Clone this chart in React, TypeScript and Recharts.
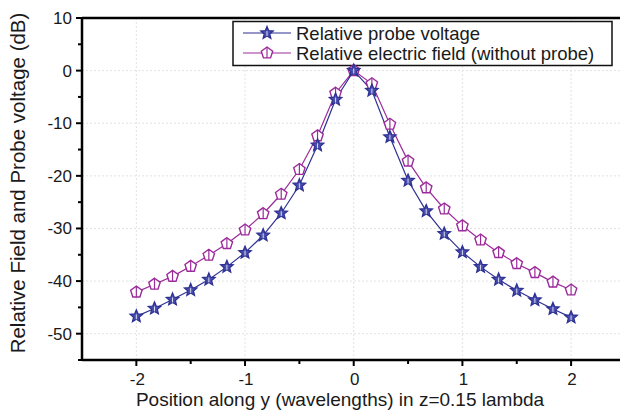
import React from 'react';
import { LineChart, Line, XAxis, YAxis, CartesianGrid, ReferenceLine } from 'recharts';

const positions = [-2, -1.833, -1.667, -1.5, -1.333, -1.167, -1, -0.833, -0.667, -0.5, -0.333, -0.167, 0,
  0.167, 0.333, 0.5, 0.667, 0.833, 1, 1.167, 1.333, 1.5, 1.667, 1.833, 2];
const probeVoltage = [-46.7, -45.2, -43.5, -41.7, -39.7, -37.3, -34.6, -31.3, -27.1, -21.8, -14.2, -5.5, 0,
  -3.8, -12.6, -20.9, -26.7, -31.0, -34.5, -37.3, -39.7, -41.8, -43.6, -45.3, -46.9];
const electricField = [-42.1, -40.6, -39.1, -37.2, -35.1, -32.9, -30.3, -27.2, -23.5, -18.8, -12.4, -4.3, 0,
  -2.5, -10.2, -17.2, -22.3, -26.3, -29.5, -32.2, -34.6, -36.7, -38.4, -40.2, -41.7];
const xTicks = [-2, -1.5, -1, -0.5, 0, 0.5, 1, 1.5, 2];
const yTicks = [-55, -50, -45, -40, -35, -30, -25, -20, -15, -10, -5, 0, 5, 10];
const xGrid = [-2, -1, 0, 1, 2];
const yGrid = [-50, -40, -30, -20, -10, 0];
const seriesNames = ['Relative probe voltage', 'Relative electric field (without probe)'];
const xLabel = 'Position along y (wavelengths) in z=0.15 lambda';
const yLabel = 'Relative Field and Probe voltage (dB)';

const data = positions.map((p, i) => ({ x: p, probe: probeVoltage[i], field: electricField[i] }));

const BLUE = '#2e3192';
const PURPLE = '#9b2a9b';
const FONT = 'Liberation Sans, Arial, Helvetica, sans-serif';
const TEXT = '#1a1a1a';

const starPath = (cx: number, cy: number, r: number) => {
  const pts: string[] = [];
  for (let i = 0; i < 10; i++) {
    const rr = i % 2 === 0 ? r : r * 0.45;
    const a = -Math.PI / 2 + (i * Math.PI) / 5;
    pts.push(`${cx + rr * Math.cos(a)},${cy + rr * Math.sin(a)}`);
  }
  return 'M' + pts.join('L') + 'Z';
};
const pentPath = (cx: number, cy: number, r: number) => {
  const pts: string[] = [];
  for (let i = 0; i < 5; i++) {
    const a = -Math.PI / 2 + (i * 2 * Math.PI) / 5;
    pts.push(`${cx + r * Math.cos(a)},${cy + r * Math.sin(a)}`);
  }
  return 'M' + pts.join('L') + 'Z';
};

const StarDot = (props: any) => {
  const { cx, cy } = props;
  if (cx == null || cy == null) return null;
  return (
    <g>
      <path d={starPath(cx, cy, 6.5)} fill="#4a4fb0" stroke={BLUE} strokeWidth={1.3} />
      <line x1={cx} y1={cy - 2} x2={cx} y2={cy + 3} stroke="#ffffff" strokeWidth={0.8} />
    </g>
  );
};
const PentDot = (props: any) => {
  const { cx, cy } = props;
  if (cx == null || cy == null) return null;
  return (
    <g>
      <path d={pentPath(cx, cy, 6)} fill="#ffffff" stroke={PURPLE} strokeWidth={1.4} />
      <line x1={cx} y1={cy - 5.5} x2={cx} y2={cy + 5} stroke={PURPLE} strokeWidth={1.2} />
    </g>
  );
};

const XTick = (props: any) => {
  const { x, y, payload } = props;
  const v = payload.value;
  const major = Math.abs(v - Math.round(v)) < 1e-6;
  return (
    <g>
      <line x1={x} y1={y} x2={x} y2={y + (major ? 6 : 4)} stroke="#000" strokeWidth={2} />
      {major && (
        <text x={x + 1} y={y + 24.5} textAnchor="middle" fontSize={17} fontFamily={FONT} fill={TEXT}>
          {String(v)}
        </text>
      )}
    </g>
  );
};
const YTick = (props: any) => {
  const { x, y, payload } = props;
  const v = payload.value;
  const major = v % 10 === 0;
  return (
    <g>
      <line x1={x} y1={y} x2={x - (major ? 6 : 4)} y2={y} stroke="#000" strokeWidth={2} />
      {major && (
        <text x={x - 10} y={y + 6} textAnchor="end" fontSize={17} fontFamily={FONT} fill={TEXT}>
          {String(v)}
        </text>
      )}
    </g>
  );
};

const Legend = () => (
  <g>
    <rect x={233} y={21.5} width={379} height={44} fill="#fff" stroke="#111" strokeWidth={1.5} />
    <line x1={243} y1={33} x2={291} y2={33} stroke={BLUE} strokeWidth={1.2} />
    <StarDot cx={267} cy={33} />
    <text x={296} y={39.5} fontSize={18.5} fontFamily={FONT} fill={TEXT}>{seriesNames[0]}</text>
    <line x1={243} y1={53} x2={291} y2={53} stroke={PURPLE} strokeWidth={1.2} />
    <PentDot cx={267} cy={53} />
    <text x={296} y={59.5} fontSize={18.5} fontFamily={FONT} fill={TEXT}>{seriesNames[1]}</text>
  </g>
);

const AxisTitles = () => (
  <g>
    <text x={340} y={406} textAnchor="middle" fontSize={19} fontFamily={FONT} fill={TEXT}>{xLabel}</text>
    <text
      transform="translate(25,183) rotate(-90)"
      x={0}
      y={0}
      textAnchor="middle"
      fontSize={20.5}
      fontFamily={FONT}
      fill={TEXT}
    >
      {yLabel}
    </text>
  </g>
);

export default function App() {
  return (
    <div style={{ position: 'absolute', left: 0, top: 0, width: 621, height: 411, background: '#fff' }}>
      <LineChart width={621} height={411} data={data} margin={{ top: 18, right: 1, bottom: 0, left: 0 }}>
        <CartesianGrid
          stroke="#e2e2e2"
          strokeDasharray="2 2"
          horizontalValues={yGrid}
          verticalValues={xGrid}
        />
        <XAxis
          type="number"
          dataKey="x"
          domain={[-2.5, 2.45]}
          ticks={xTicks}
          interval={0}
          allowDataOverflow
          height={51}
          tickLine={false}
          tickSize={0}
          tickMargin={0}
          axisLine={{ stroke: '#000', strokeWidth: 2.5 }}
          tick={<XTick />}
        />
        <YAxis
          type="number"
          domain={[-55, 10]}
          ticks={yTicks}
          interval={0}
          allowDataOverflow
          width={82}
          tickLine={false}
          tickSize={0}
          tickMargin={0}
          axisLine={{ stroke: '#000', strokeWidth: 2.5 }}
          tick={<YTick />}
        />
        <ReferenceLine y={10} stroke="#000" strokeWidth={2.5} ifOverflow="extendDomain" />
        <Line type="linear" dataKey="field" stroke={PURPLE} strokeWidth={1.2} dot={<PentDot />} isAnimationActive={false} />
        <Line type="linear" dataKey="probe" stroke={BLUE} strokeWidth={1.2} dot={<StarDot />} isAnimationActive={false} />
        <Legend />
        <AxisTitles />
      </LineChart>
    </div>
  );
}
